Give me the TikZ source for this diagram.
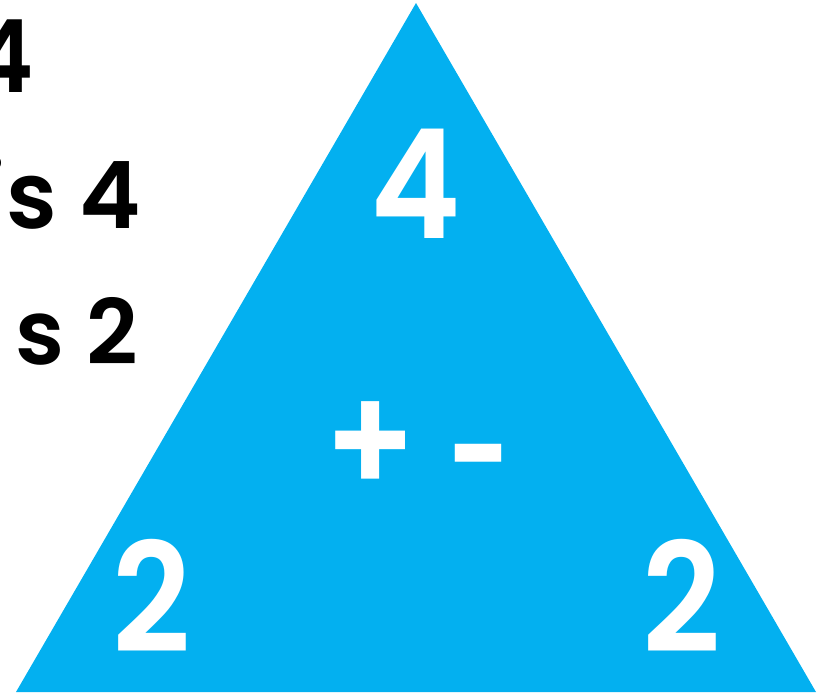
\documentclass[tikz,border=0pt]{standalone}
\usepackage{fontspec}
\usepackage{graphicx}
\setmainfont{Poppins}[BoldFont={Poppins SemiBold}]
\newfontfamily\digfont{Poppins SemiBold}[FakeStretch=0.9]
\newfontfamily\txtfont{Poppins SemiBold}
\definecolor{triblue}{HTML}{03B0F0}
\tikzset{
  wnum/.style={text=white, font=\fontsize{152}{154}\digfont, inner sep=0pt, anchor=base, text depth=0pt},
  bnum/.style={text=black, inner sep=0pt, anchor=base east, text depth=0pt},
}
\begin{document}
\begin{tikzpicture}[x=1pt,y=-1pt]
\useasboundingbox (0,0) rectangle (831,694);
\fill[triblue] (416,3) coordinate (apex) -- (816,692) coordinate (br) -- (16,692) coordinate (bl) -- cycle;
\node[wnum] (top) at (416,238) {4};
\node[wnum] (ops) at (418,494) {+\hspace{0.2em}\raisebox{-13pt}{\scalebox{0.8}[1]{-}}};
\node[wnum] (left) at (152,652) {2};
\node[wnum] (right) at (682,652) {2};
\node[bnum, font=\fontsize{101}{103}\digfont] (l1) at (34,92) {4};
\node[bnum, font=\fontsize{93}{95}\txtfont] (l2) at (141,228) {is 4};
\node[bnum, font=\fontsize{90}{92}\txtfont] (l3) at (138,364) {s 2};
\end{tikzpicture}
\end{document}
